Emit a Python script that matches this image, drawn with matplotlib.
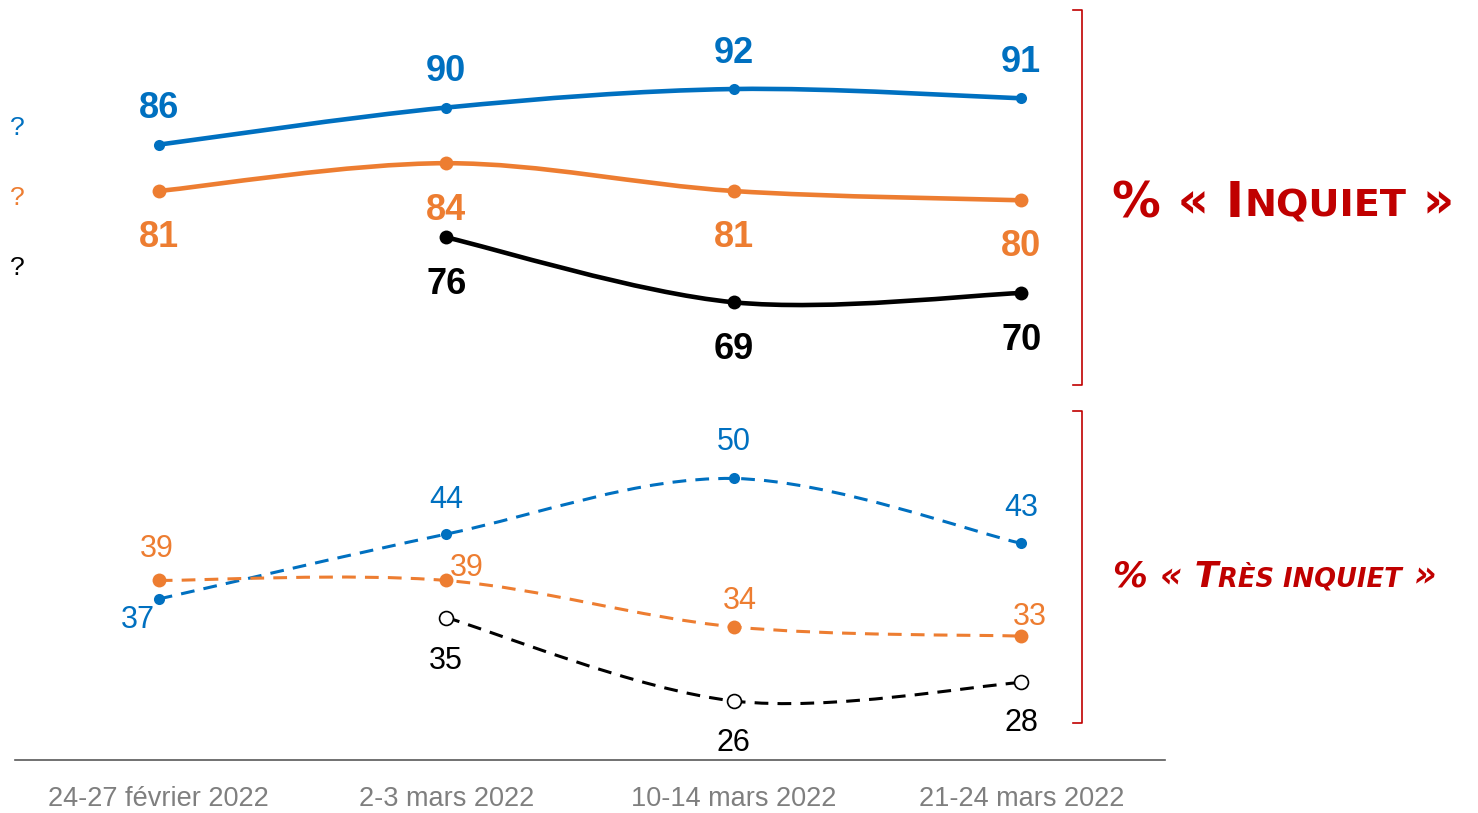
import matplotlib
matplotlib.use('Agg')
import matplotlib.pyplot as plt
from matplotlib.path import Path
from matplotlib.patches import PathPatch
from matplotlib.lines import Line2D

# Données
vagues = ['24-27 février 2022', '2-3 mars 2022', '10-14 mars 2022', '21-24 mars 2022']
bleu_inquiet = [86, 90, 92, 91]
orange_inquiet = [81, 84, 81, 80]
noir_inquiet = [None, 76, 69, 70]
bleu_tres = [37, 44, 50, 43]
orange_tres = [39, 39, 34, 33]
noir_tres = [None, 35, 26, 28]

BLEU = '#0070C0'
ORANGE = '#ED7D31'
NOIR = '#000000'
ROUGE = '#C00000'

plt.rcParams['font.family'] = ['Liberation Sans', 'DejaVu Sans']

W, H = 1478, 813
fig = plt.figure(figsize=(W / 100, H / 100), dpi=100)
ax = fig.add_axes([15 / W, 53 / H, 1150 / W, 760 / H])
ax.set_xlim(-0.5, 3.5)
ax.set_ylim(19.64, 101.6)


def courbe_lissee(ax, xs, ys, color, lw, ls):
    # courbe lissée type Excel (Catmull-Rom -> Bézier)
    pts = [(x, y) for x, y in zip(xs, ys) if y is not None]
    verts = [pts[0]]
    codes = [Path.MOVETO]
    for i in range(len(pts) - 1):
        p0 = pts[i - 1] if i > 0 else pts[i]
        p1 = pts[i]
        p2 = pts[i + 1]
        p3 = pts[i + 2] if i + 2 < len(pts) else pts[i + 1]
        c1 = (p1[0] + (p2[0] - p0[0]) / 6, p1[1] + (p2[1] - p0[1]) / 6)
        c2 = (p2[0] - (p3[0] - p1[0]) / 6, p2[1] - (p3[1] - p1[1]) / 6)
        verts += [c1, c2, p2]
        codes += [Path.CURVE4] * 3
    patch = PathPatch(Path(verts, codes), fill=False, edgecolor=color,
                      lw=lw, linestyle=ls, capstyle='butt', zorder=2)
    ax.add_patch(patch)


def serie(ax, ys, color, lw, ls, ms, mfc, offsets, fs, weight):
    xs = list(range(len(ys)))
    courbe_lissee(ax, xs, ys, color, lw, ls)
    for x, y, off in zip(xs, ys, offsets):
        if y is None:
            continue
        ax.plot(x, y, 'o', ms=ms, mfc=mfc, mec=color, mew=1.2 if mfc == 'white' else 0, zorder=3)
        ax.annotate(str(y), (x, y), xytext=off, textcoords='offset pixels',
                    ha='center', va='center', fontsize=fs, fontweight=weight,
                    color=color)


tirets = (0, (4.5, 3))
serie(ax, bleu_inquiet, BLEU, 3.3, '-', 8, BLEU,
      [(0, 36), (0, 36), (0, 36), (0, 36)], 26, 'bold')
serie(ax, orange_inquiet, ORANGE, 3.3, '-', 10, ORANGE,
      [(0, -46), (0, -47), (0, -46), (0, -46)], 26, 'bold')
serie(ax, noir_inquiet, NOIR, 3.3, '-', 10, NOIR,
      [(0, 0), (0, -47), (0, -47), (0, -47)], 26, 'bold')
serie(ax, bleu_tres, BLEU, 2.2, tirets, 8, BLEU,
      [(-21, -21), (0, 34), (0, 36), (0, 35)], 22, 'normal')
serie(ax, orange_tres, ORANGE, 2.2, tirets, 10, ORANGE,
      [(-2, 31), (21, 12), (6, 26), (9, 19)], 22, 'normal')
serie(ax, noir_tres, NOIR, 2.2, tirets, 10, 'white',
      [(0, 0), (0, -43), (0, -42), (0, -41)], 22, 'normal')

# axes
for s in ['top', 'right', 'left']:
    ax.spines[s].set_visible(False)
ax.spines['bottom'].set_color('#595959')
ax.spines['bottom'].set_linewidth(1.2)
ax.set_yticks([])
ax.set_xticks(range(len(vagues)))
ax.set_xticklabels(vagues, fontsize=19.5, color='#7F7F7F')
ax.tick_params(axis='x', length=0, pad=19)

# légende tronquée (?)
for yy, c in [(128, BLEU), (198, ORANGE), (268, NOIR)]:
    fig.text(17 / W, 1 - yy / H, '?', color=c, fontsize=19, ha='center', va='center')

# accolades rouges
for y0, y1 in [(10, 385), (411, 723)]:
    xb = 1082
    fig.add_artist(Line2D([1073 / W, xb / W, xb / W, 1073 / W],
                          [1 - y0 / H, 1 - y0 / H, 1 - y1 / H, 1 - y1 / H],
                          color=ROUGE, lw=1.2))


def petites_capitales(x0, ybase, morceaux, style):
    fig.canvas.draw()
    r = fig.canvas.get_renderer()
    x = x0
    for txt, fs in morceaux:
        t = fig.text(x / W, 1 - ybase / H, txt, fontsize=fs, color=ROUGE,
                     fontweight='bold', fontstyle=style, ha='left', va='baseline',
                     family='DejaVu Sans')
        bb = t.get_window_extent(renderer=r)
        x = bb.x1


petites_capitales(1112, 217, [('% « I', 35), ('NQUIET', 27.5), (' »', 35)], 'normal')
petites_capitales(1113, 586, [('% « T', 25), ('RÈS INQUIET', 18.5), (' »', 25)], 'italic')

fig.savefig('out.png', dpi=100)
